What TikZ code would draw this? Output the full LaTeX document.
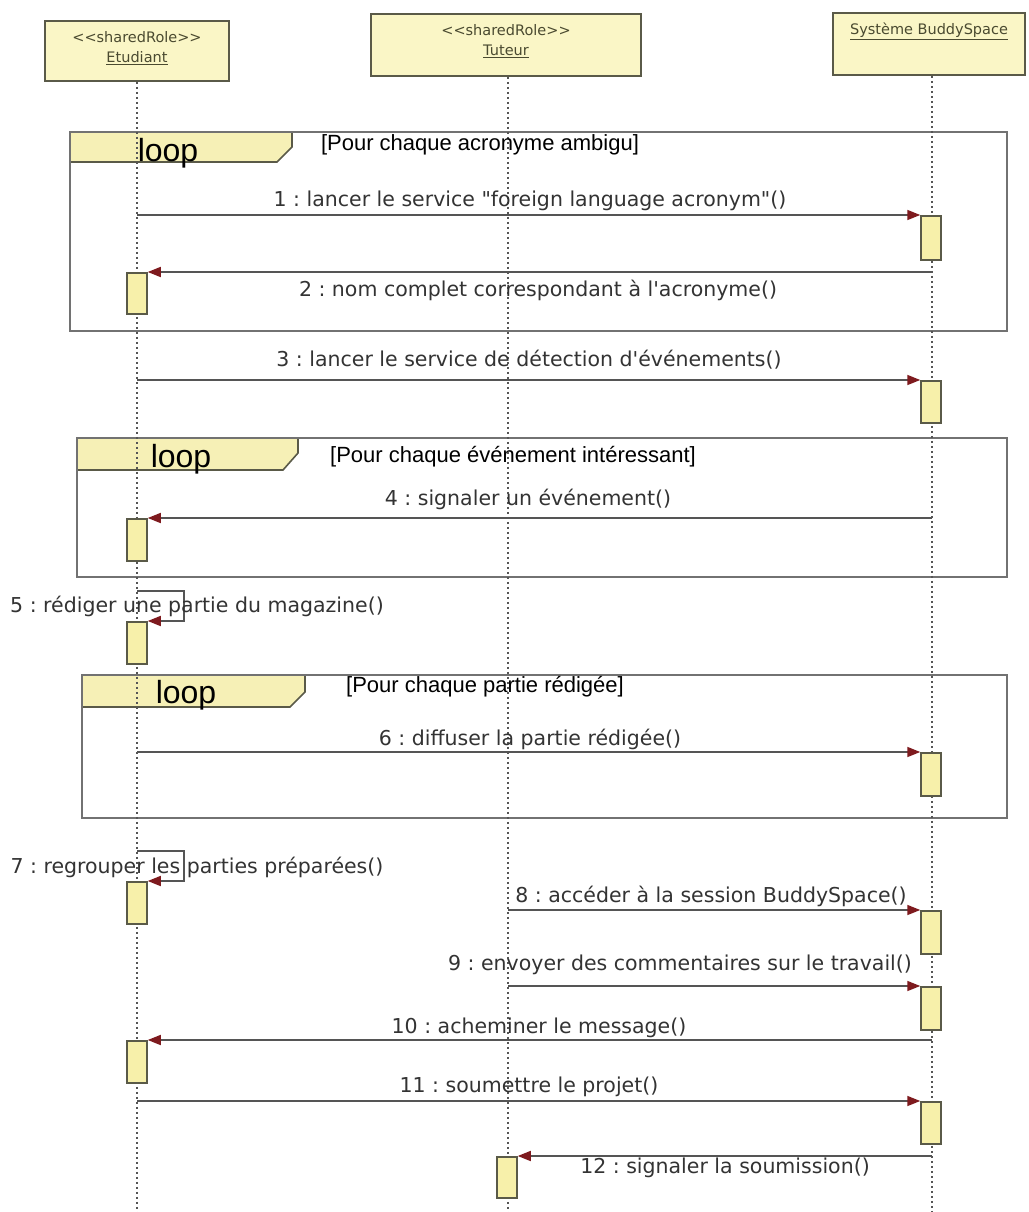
\documentclass[tikz,border=0pt]{standalone}
\usepackage{fontspec}
\setmainfont{DejaVu Sans}[Ligatures=TeXOff]
\newfontfamily\framefont{Liberation Sans}
\usetikzlibrary{arrows.meta}
\definecolor{headfill}{HTML}{FAF6C6}
\definecolor{actfill}{HTML}{F7F0AA}
\definecolor{tabfill}{HTML}{F6F0B6}
\definecolor{edge}{HTML}{5A5A48}
\definecolor{frameline}{HTML}{727272}
\definecolor{msgline}{HTML}{555555}
\definecolor{tipred}{HTML}{7E1A1E}
\definecolor{ink}{HTML}{333333}
\definecolor{headink}{HTML}{4A4A30}
\frenchspacing
\begin{document}
\begin{tikzpicture}[x=1pt,y=-1pt,
  head/.style={draw=edge, line width=1.8pt, fill=headfill, inner sep=0pt},
  headtext/.style={anchor=north, text=headink, align=center, inner sep=0pt,
    font=\fontsize{14.5}{20}\selectfont},
  lifeline/.style={draw=msgline, line width=2pt, dash pattern=on 2.5pt off 2.5pt},
  act/.style={draw=edge, line width=1.5pt, fill=actfill, minimum width=20pt,
    inner sep=0pt, anchor=north},
  msg/.style={draw=msgline, line width=1.6pt,
    -{Triangle[length=13pt,width=10pt,color=tipred,fill=tipred]}},
  lbl/.style={text=ink, inner sep=0pt, font=\fontsize{20.5}{24}\selectfont},
  frame/.style={draw=frameline, line width=2pt},
  tab/.style={draw=edge, line width=1.6pt, fill=tabfill},
  looptxt/.style={text=black, inner sep=0pt, font=\framefont\fontsize{32}{36}\selectfont},
  guard/.style={text=black, inner sep=0pt, font=\framefont\fontsize{22}{24}\selectfont}
]
\useasboundingbox[fill=white] (0,0) rectangle (1028,1212);

% combined fragments (tabs first, lifelines run over them)
\draw[tab] (70,132) -- (292,132) -- (292,147) -- (277,162) -- (70,162) -- cycle;
\draw[frame] (70,132) rectangle (1007,331);
\draw[tab] (77,438) -- (298,438) -- (298,453) -- (283,470) -- (77,470) -- cycle;
\draw[frame] (77,438) rectangle (1007,577);
\draw[tab] (82,675) -- (305,675) -- (305,692) -- (290,707) -- (82,707) -- cycle;
\draw[frame] (82,675) rectangle (1007,818);

% lifeline heads
\node[head, minimum width=184pt, minimum height=60pt] (etu) at (137,51) {};
\node[headtext] (etuT) at ([yshift=-11pt]etu.north) {<<sharedRole>>\\\underline{Etudiant}};
\node[head, minimum width=270pt, minimum height=62pt] (tut) at (506,45) {};
\node[headtext] (tutT) at ([yshift=-11pt]tut.north) {<<sharedRole>>\\\underline{Tuteur}};
\node[head, minimum width=192pt, minimum height=62pt] (sys) at (929,44) {};
\node[headtext] (sysT) at ([yshift=-11pt]sys.north) {\underline{Système BuddySpace}};

% lifelines
\coordinate (etuEnd) at (137,1212);
\coordinate (tutEnd) at (508,1212);
\coordinate (sysEnd) at (932,1212);
\draw[lifeline] (etu.south -| etuEnd) -- (etuEnd);
\draw[lifeline] (tut.south -| tutEnd) -- (tutEnd);
\draw[lifeline] (sys.south -| sysEnd) -- (sysEnd);

% fragment labels
\node[looptxt] (loop1) at (168,153) {loop};
\node[guard] (g1) at (480,145) {[Pour chaque acronyme ambigu]};
\node[looptxt] (loop2) at (181,459) {loop};
\node[guard] (g2) at (513,457) {[Pour chaque événement intéressant]};
\node[looptxt] (loop3) at (186,695) {loop};
\node[guard] (g3) at (485,687) {[Pour chaque partie rédigée]};

% activation bars
\node[act, minimum height=44pt] (a1) at (931,215) {};
\node[act, minimum height=41pt] (a2) at (137,272) {};
\node[act, minimum height=42pt] (a3) at (931,380) {};
\node[act, minimum height=42pt] (a4) at (137,518) {};
\node[act, minimum height=42pt] (a5) at (137,621) {};
\node[act, minimum height=43pt] (a6) at (931,752) {};
\node[act, minimum height=42pt] (a7) at (137,881) {};
\node[act, minimum height=43pt] (a8) at (931,910) {};
\node[act, minimum height=43pt] (a9) at (931,986) {};
\node[act, minimum height=42pt] (a10) at (137,1040) {};
\node[act, minimum height=42pt] (a11) at (931,1101) {};
\node[act, minimum height=41pt] (a12) at (507,1156) {};

% message start points on the lifelines
\coordinate (s1) at (137,215);
\coordinate (s2) at (932,272);
\coordinate (s3) at (137,380);
\coordinate (s4) at (932,518);
\coordinate (s5) at (137,591);
\coordinate (c5) at (184,621);
\coordinate (s6) at (137,752);
\coordinate (s7) at (137,851);
\coordinate (c7) at (184,881);
\coordinate (s8) at (508,910);
\coordinate (s9) at (508,986);
\coordinate (s10) at (932,1040);
\coordinate (s11) at (137,1101);
\coordinate (s12) at (932,1156);

% messages
\draw[msg] (s1) -- (a1.north west);
\draw[msg] (s2) -- (a2.north east);
\draw[msg] (s3) -- (a3.north west);
\draw[msg] (s4) -- (a4.north east);
\draw[msg] (s5) -| (c5) -- (a5.north east);
\draw[msg] (s6) -- (a6.north west);
\draw[msg] (s7) -| (c7) -- (a7.north east);
\draw[msg] (s8) -- (a8.north west);
\draw[msg] (s9) -- (a9.north west);
\draw[msg] (s10) -- (a10.north east);
\draw[msg] (s11) -- (a11.north west);
\draw[msg] (s12) -- (a12.north east);

% message labels
\node[lbl] (l1) at (530,201) {1 : lancer le service "foreign language acronym"()};
\node[lbl] (l2) at (538,290) {2 : nom complet correspondant à l'acronyme()};
\node[lbl] (l3) at (529,360) {3 : lancer le service de détection d'événements()};
\node[lbl] (l4) at (528,499) {4 : signaler un événement()};
\node[lbl] (l5) at (197,606) {5 : rédiger une partie du magazine()};
\node[lbl] (l6) at (530,739) {6 : diffuser la partie rédigée()};
\node[lbl] (l7) at (197,867) {7 : regrouper les parties préparées()};
\node[lbl] (l8) at (711,896) {8 : accéder à la session BuddySpace()};
\node[lbl] (l9) at (680,965) {9 : envoyer des commentaires sur le travail()};
\node[lbl] (l10) at (539,1028) {10 : acheminer le message()};
\node[lbl] (l11) at (529,1087) {11 : soumettre le projet()};
\node[lbl] (l12) at (725,1168) {12 : signaler la soumission()};
\end{tikzpicture}
\end{document}
